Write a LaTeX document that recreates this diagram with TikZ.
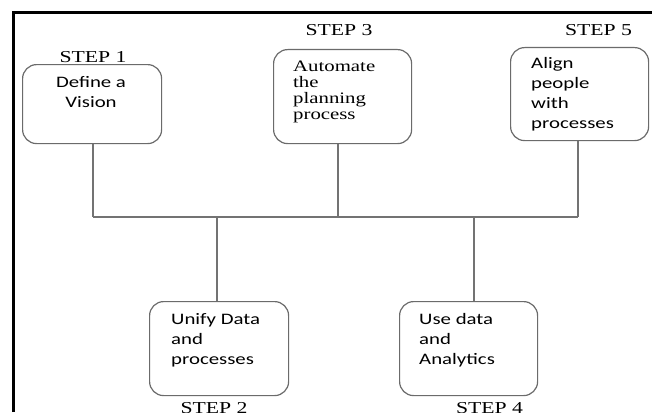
\documentclass[tikz,border=0pt]{standalone}
\usepackage{fontspec}
\setmainfont{Liberation Serif}[FakeStretch=1.3]
\newfontfamily\calfont{Carlito}[FakeStretch=1.3]
\begin{document}
\begin{tikzpicture}[x=1pt,y=-1pt,
  stepbox/.style={draw=black!58,line width=1.2pt,rounded corners=14pt,fill=white,inner sep=0pt,anchor=north west},
  steplabel/.style={font=\rmfamily\fontsize{16.7}{20}\selectfont,anchor=base,inner sep=0pt},
  boxtext/.style={font=\calfont\fontsize{16}{20}\selectfont,align=left,anchor=base west,inner sep=0pt},
  serftext/.style={font=\rmfamily\fontsize{16}{16}\selectfont,align=left,anchor=base west,inner sep=0pt},
  wire/.style={draw=black!55,line width=1.2pt}]
\useasboundingbox (0,0) rectangle (652,412);
% frame
\draw[line width=3pt] (13,412) -- (13,13) -- (652,13);
% boxes
\node[stepbox,minimum width=139pt,minimum height=79pt] (b1) at (22,64) {};
\node[stepbox,minimum width=138pt,minimum height=94pt] (b3) at (273,49) {};
\node[stepbox,minimum width=138pt,minimum height=93pt] (b5) at (510,47) {};
\node[stepbox,minimum width=139pt,minimum height=94pt] (b2) at (149,301) {};
\node[stepbox,minimum width=138pt,minimum height=94pt] (b4) at (399,301) {};
% texts (anchored at the baseline of their last line)
\node[boxtext,align=center,anchor=base] (t1) at (91,107) {Define a\\Vision};
\node[serftext] (t3) at (293,119.5) {Automate\\the\\planning\\process};
\node[boxtext] (t5) at (531,128) {Align\\people\\with\\processes};
\node[boxtext] (t2) at (171,364) {Unify Data\\and\\processes};
\node[boxtext] (t4) at (419,364) {Use data\\and\\Analytics};
% step labels
\node[steplabel] (s1) at (93,63) {STEP 1};
\node[steplabel] (s3) at (339,36) {STEP 3};
\node[steplabel] (s5) at (598.5,36) {STEP 5};
\node[steplabel] (s2) at (214,413) {STEP 2};
\node[steplabel] (s4) at (489.5,413) {STEP 4};
% junctions on the bus
\coordinate (j1) at (93,217);
\coordinate (j3) at (338,217);
\coordinate (j5) at (578,217);
\coordinate (j2) at (217,217);
\coordinate (j4) at (474,217);
% connectors
\draw[wire] (j1) -- (j5);
\draw[wire] (b1.south -| j1) -- (j1);
\draw[wire] (b3.south -| j3) -- (j3);
\draw[wire] (b5.south -| j5) -- (j5);
\draw[wire] (j2) -- (b2.north -| j2);
\draw[wire] (j4) -- (b4.north -| j4);
\end{tikzpicture}
\end{document}
